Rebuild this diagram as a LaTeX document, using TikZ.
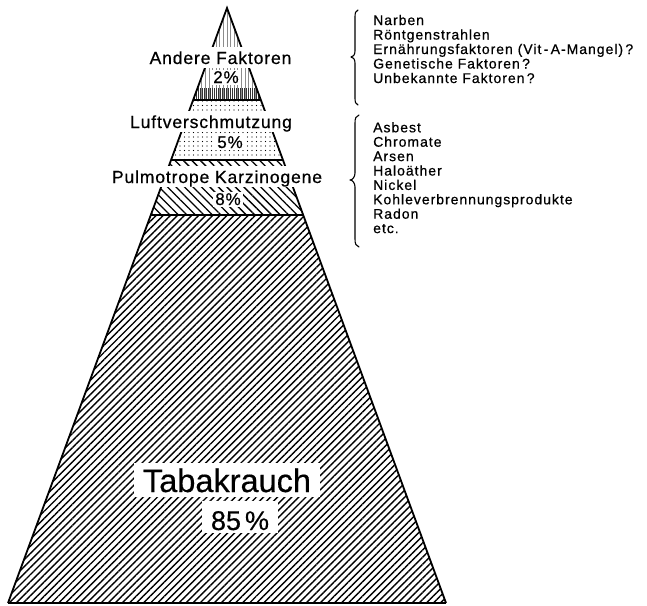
\documentclass[tikz,border=0pt]{standalone}
\usepackage{fontspec}
\setmainfont{Liberation Sans}[FakeBold=0.4]
\newfontfamily\spacedfont[LetterSpace=5,FakeBold=0.6]{Liberation Sans}
\newfontfamily\listfont[LetterSpace=7,FakeBold=0.6]{Liberation Sans}
\usetikzlibrary{patterns.meta}

\begin{document}
\begin{tikzpicture}[x=1pt,y=-1pt,
  side/.style={line width=1.8pt, line join=miter},
  sepline/.style={line width=1.9pt},
  lbl/.style={anchor=base, fill=white, inner xsep=3pt, inner ysep=0pt,
    text height=17pt, text depth=4pt, font=\fontsize{17.5}{20}\spacedfont},
  pct/.style={anchor=base, fill=white, inner xsep=2pt, inner ysep=1.5pt,
    font=\fontsize{17}{20}\spacedfont},
  listtext/.style={anchor=base west, inner sep=0pt, font=\fontsize{14}{14.5}\listfont},
  bracepath/.style={line width=1.1pt, line cap=round, line join=round}
]
\useasboundingbox (0,0) rectangle (647,605);

% pyramid corner points
\coordinate (apex) at (227,8);
\coordinate (a1) at (193.1,100);  \coordinate (a2) at (260.9,100);
\coordinate (b1) at (171.1,160);  \coordinate (b2) at (282.9,160);
\coordinate (c1) at (150.8,215);  \coordinate (c2) at (303.2,215);
\coordinate (d1) at (8,603);      \coordinate (d2) at (446,603);
\coordinate (e1) at (197.6,88);   \coordinate (e2) at (256.4,88);

% fills
\fill[pattern={Lines[angle=90,distance=3.6pt,line width=0.35pt]}, pattern color=black!45]
  (apex) -- (a2) -- (a1) -- cycle;
\fill[pattern={Lines[angle=90,distance=2pt,line width=0.5pt]}, pattern color=black!80]
  (e1) -- (e2) -- (a2) -- (a1) -- cycle;
\fill[pattern={Dots[distance=4.5pt,radius=0.6pt]}]
  (a1) -- (a2) -- (b2) -- (b1) -- cycle;
\fill[pattern={Lines[angle=-45,distance=6pt,line width=1.3pt]}]
  (b1) -- (b2) -- (c2) -- (c1) -- cycle;
\fill[pattern={Lines[angle=45,distance=5pt,line width=1.4pt]}]
  (c1) -- (c2) -- (d2) -- (d1) -- cycle;

% outline
\draw[side] (d1) -- (apex) -- (d2);
\draw[sepline] (a1) -- (a2);
\draw[sepline] (b1) -- (b2);
\draw[sepline] (c1) -- (c2);
\draw[sepline] (d1) -- (d2);

% labels
\node[lbl] (andere) at (220.5,64) {Andere Faktoren};
\node[pct] (p2) at (226,83) {2\%};
\node[lbl] (luft) at (211,128) {Luftverschmutzung};
\node[pct] (p5) at (230,148) {5\%};
\node[lbl] (pulmo) at (217,183) {Pulmotrope Karzinogene};
\node[pct] (p8) at (228,205) {8\%};
\node[anchor=base, fill=white, inner xsep=9pt, inner ysep=5pt, text height=24pt,
  text depth=0pt, font=\fontsize{32.5}{36}\selectfont] (tabak) at (227,492) {Tabakrauch};
\node[anchor=base, fill=white, inner xsep=9pt, inner ysep=3pt, text height=26pt,
  text depth=0pt, font=\fontsize{27}{32}\selectfont] (p85) at (240,530) {85\hspace{4pt}\%};

% braces
\draw[bracepath] (358,10) .. controls (355.5,11) and (355,13) .. (355,17) -- (355,51)
  .. controls (355,55) and (353,57) .. (351,57)
  .. controls (353,57) and (355,59) .. (355,63) -- (355,98)
  .. controls (355,102) and (355.5,104) .. (358,105);
\draw[bracepath] (359,115) .. controls (356,116) and (355,118) .. (355,123) -- (355,173)
  .. controls (355,177) and (352.5,180) .. (350,180)
  .. controls (352.5,180) and (355,183) .. (355,187) -- (355,239)
  .. controls (355,244) and (356,246) .. (359,247);

% lists
\foreach \t [count=\i] in {Narben, Röntgenstrahlen, Ernährungsfaktoren (Vit\,-\,A-Mangel)\,?,
  Genetische Faktoren\,?, Unbekannte Faktoren\,?}
  \node[listtext] (la\i) at (373,{25+14.5*(\i-1)}) {\t};
\foreach \t [count=\i] in {Asbest, Chromate, Arsen, Haloäther, Nickel,
  Kohleverbrennungsprodukte, Radon, etc.}
  \node[listtext] (lb\i) at (373,{132.3+14.4*(\i-1)}) {\t};
\end{tikzpicture}
\end{document}
